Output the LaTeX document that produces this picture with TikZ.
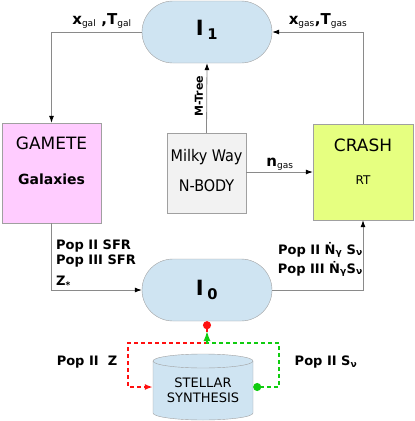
\documentclass[tikz,border=0pt]{standalone}
\usepackage{fontspec}
\setmainfont{DejaVu Sans}
\newfontfamily\condfont{DejaVu Sans Condensed}
\usetikzlibrary{arrows.meta}
\definecolor{stadfill}{HTML}{CFE4F2}
\definecolor{bordgray}{HTML}{A0A0A0}
\definecolor{linegray}{HTML}{8A8A8A}
\definecolor{gamfill}{HTML}{FFCCFF}
\definecolor{crashfill}{HTML}{E6FF80}
\definecolor{mwfill}{HTML}{F2F2F2}
\definecolor{redline}{HTML}{FF1010}
\definecolor{greenline}{HTML}{10CC10}
\newcommand{\sbs}[1]{\textsubscript{\normalfont\fontsize{9}{10}\selectfont #1}}
\tikzset{
  stadium/.style={draw=bordgray, fill=stadfill, rounded corners=31pt, minimum width=130pt, minimum height=62pt, inner sep=0pt},
  codebox/.style={draw=bordgray, inner sep=0pt},
  conn/.style={draw=linegray, line width=0.8pt, -{Latex[length=7pt,width=5pt,color=black]}},
  lbl/.style={font=\bfseries\fontsize{13}{15}\selectfont, inner sep=0pt},
  toplbl/.style={font=\bfseries\fontsize{15}{17}\selectfont, inner sep=0pt},
  boxtitle/.style={font=\fontsize{17}{19}\selectfont, inner sep=0pt},
  boxsub/.style={font=\fontsize{12}{14}\selectfont, inner sep=0pt},
  reddash/.style={draw=redline, line width=1.6pt, dash pattern=on 4pt off 3pt},
  greendash/.style={draw=greenline, line width=1.6pt, dash pattern=on 4pt off 3pt},
}
\begin{document}
\begin{tikzpicture}[x=1pt,y=-1pt]
\useasboundingbox (0,0) rectangle (415,421);
% main nodes
\node[stadium] (i1) at (207,32) {};
\node[font=\bfseries\fontsize{21}{23}\selectfont] (i1t) at (207,30) {I\,\textsubscript{1}};
\node[stadium] (i0) at (207,290) {};
\node[font=\bfseries\fontsize{21}{23}\selectfont] (i0t) at (207,290) {I\,\textsubscript{0}};
\node[codebox, fill=gamfill, minimum width=99pt, minimum height=100pt] (gam) at (51.5,173) {};
\node[boxtitle] (gamt) at (51.5,143) {GAMETE};
\node[font=\bfseries\fontsize{14}{16}\selectfont, inner sep=0pt] (gams) at (51.5,179) {Galaxies};
\node[codebox, fill=crashfill, minimum width=100pt, minimum height=96pt] (crash) at (363,172) {};
\node[boxtitle] (crt) at (363,145) {CRASH};
\node[boxsub] (crs) at (363,180) {RT};
\node[codebox, fill=mwfill, minimum width=79pt, minimum height=80pt] (mw) at (206.5,173) {};
\node[font=\condfont\fontsize{16}{18}\selectfont, inner sep=0pt] (mwa) at (206.5,157) {Milky Way};
\node[font=\condfont\fontsize{16}{18}\selectfont, inner sep=0pt] (mwb) at (206.5,186) {N-BODY};
% stellar synthesis cylinder
\node[minimum width=100pt, minimum height=66pt, inner sep=0pt] (ss) at (203,387) {};
\fill[stadfill] (153,361) -- (153,413) arc[start angle=180,end angle=0,x radius=50,y radius=7] -- (253,361) arc[start angle=0,end angle=-180,x radius=50,y radius=7] -- cycle;
\draw[bordgray] (153,361) -- (153,413) arc[start angle=180,end angle=0,x radius=50,y radius=7] -- (253,361);
\draw[bordgray] (203,361) ellipse[x radius=50,y radius=7];
\node[font=\fontsize{13}{15}\selectfont, inner sep=0pt] (sst1) at (203,383) {STELLAR};
\node[font=\fontsize{13}{15}\selectfont, inner sep=0pt] (sst2) at (203,398) {SYNTHESIS};
% connectors
\draw[conn] (i1.west) -| (gam.north);
\draw[conn] (crash.north) |- (i1.east);
\draw[conn] (mw.north) -- (i1.south);
\draw[conn] (mw.east |- crash.west) -- (crash.west);
\draw[conn] (gam.south) |- (i0.west);
\draw[conn] (i0.east) -| (crash.south);
% dashed feedback
\coordinate (rc) at (128,343);
\coordinate (gc) at (279,343);
\coordinate (gtip) at (207,331);
\draw[reddash, {Circle[length=8pt,width=8pt,fill=redline,color=redline,sep=0pt]}-{Latex[length=8pt,width=6pt,color=redline]}] (i0.south) -- (i0.south |- rc) -- (rc) |- (ss.west);
\draw[greendash, {Circle[length=8pt,width=8pt,color=greenline]}-{Latex[length=10pt,width=7pt,color=greenline]}] (ss.east) -| (gc) -- (gc -| gtip) -- (gtip);
% labels
\node[toplbl] (l1) at (102,21) {x\sbs{gal} ,T\sbs{gal}};
\node[toplbl] (l2) at (318,21) {x\sbs{gas},T\sbs{gas}};
\node[lbl, font=\bfseries\fontsize{11}{13}\selectfont, rotate=90] (l3) at (199,96) {M-Tree};
\node[lbl, font=\bfseries\fontsize{15}{17}\selectfont] (l4) at (280,164) {n\sbs{gas}};
\node[lbl, anchor=west] (l5) at (56,246) {Pop II SFR};
\node[lbl, anchor=west] (l6) at (56,261) {Pop III SFR};
\node[lbl, anchor=west] (l7) at (56,282) {Z\textsubscript{*}};
\node[lbl, anchor=east] (l8) at (363,250) {Pop II \.{N}\textsubscript{γ} S\textsubscript{ν}};
\node[lbl, anchor=east] (l9) at (363,269) {Pop III \.{N}\textsubscript{γ}S\textsubscript{ν}};
\node[lbl] (l10) at (87,362) {Pop II~~Z};
\node[lbl] (l11) at (326,362) {Pop II S\textsubscript{ν}};
\end{tikzpicture}
\end{document}
